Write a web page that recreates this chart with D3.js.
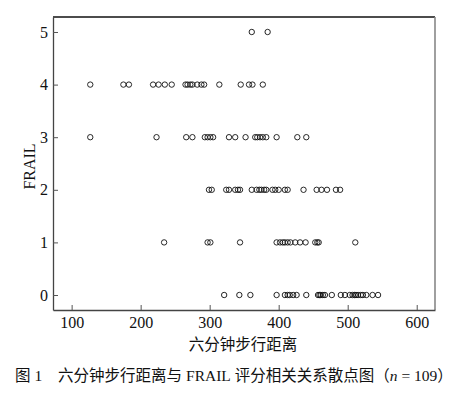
<!DOCTYPE html>
<html>
<head>
<meta charset="utf-8">
<script src="https://cdn.jsdelivr.net/npm/d3@7"></script>
<style>
  body { margin: 0; background: #fff; }
  svg { display: block; }
</style>
</head>
<body>
<div id="chart"></div>
<script>
// FRAIL score levels and six-minute walk distances
const frail_levels = [0, 1, 2, 3, 4, 5]
const walk_0 = [321, 343, 359, 397, 409, 413, 416, 421, 426, 440, 457, 459, 461, 464, 467, 477, 490, 496, 503, 507, 510, 512, 515, 519, 522, 527, 536, 544]
const walk_1 = [234, 297, 301, 344, 397, 402, 406, 409, 413, 417, 424, 431, 439, 453, 456, 458, 511]
const walk_2 = [299, 303, 324, 328, 337, 341, 344, 361, 368, 372, 375, 379, 382, 391, 395, 400, 409, 413, 436, 455, 462, 470, 483, 489]
const walk_3 = [127, 223, 266, 275, 293, 297, 301, 305, 328, 337, 352, 366, 369, 373, 377, 382, 397, 427, 440]
const walk_4 = [127, 175, 183, 218, 226, 235, 245, 265, 268, 272, 275, 282, 288, 292, 314, 345, 357, 362, 377]
const walk_5 = [361, 384]
const x_ticks = [100, 200, 300, 400, 500, 600]

const width = 458, height = 395
const margin = { left: 53, right: 23, top: 17, bottom: 85 }
const serif = "'Liberation Serif', 'Times New Roman', serif"
const cjk = "'Noto Sans CJK SC', sans-serif"

const data = [walk_0, walk_1, walk_2, walk_3, walk_4, walk_5]
    .flatMap((row, i) => row.map(d => ({ dist: d, frail: frail_levels[i] })))

const svg = d3.select("#chart")
    .append("svg")
    .attr("width", width)
    .attr("height", height)

const x = d3.scaleLinear()
    .domain([73, 626.5])
    .range([margin.left, width - margin.right])

const y = d3.scaleLinear()
    .domain([-0.285, 5.285])
    .range([height - margin.bottom, margin.top])

const plotH = height - margin.top - margin.bottom

// frame: dark top, grey right
svg.append("line")
    .attr("x1", margin.left).attr("x2", width - margin.right)
    .attr("y1", margin.top).attr("y2", margin.top)
    .attr("stroke", "#111").attr("stroke-width", 1.3)
svg.append("line")
    .attr("x1", width - margin.right).attr("x2", width - margin.right)
    .attr("y1", margin.top).attr("y2", height - margin.bottom)
    .attr("stroke", "#888").attr("stroke-width", 1.6)

const xAxis = svg.append("g")
    .attr("transform", `translate(0, ${height - margin.bottom})`)
    .call(d3.axisBottom(x).tickValues(x_ticks).tickSizeInner(-5).tickSizeOuter(0).tickPadding(7))
const yAxis = svg.append("g")
    .attr("transform", `translate(${margin.left}, 0)`)
    .call(d3.axisLeft(y).tickValues(frail_levels).tickFormat(d3.format("d")).tickSizeInner(-5).tickSizeOuter(0).tickPadding(10))

for (const ax of [xAxis, yAxis]) {
    ax.attr("font-family", serif).attr("font-size", 16)
    ax.select(".domain").attr("stroke", "#444").attr("stroke-width", 1.3)
    ax.selectAll(".tick line").attr("stroke", "#555")
    ax.selectAll(".tick text")
        .style("font-family", serif)
        .style("font-size", "16px")
        .attr("fill", "#111")
}
yAxis.selectAll(".tick text").attr("x", -5)

svg.append("g")
    .selectAll("circle")
    .data(data)
    .join("circle")
    .attr("cx", d => x(d.dist))
    .attr("cy", d => y(d.frail))
    .attr("r", 2.7)
    .attr("fill", "none")
    .attr("stroke", "#111")
    .attr("stroke-width", 0.9)

svg.append("text")
    .attr("transform", `translate(35, ${margin.top + plotH / 2 + 3}) rotate(-90)`)
    .attr("text-anchor", "middle")
    .style("font-family", serif)
    .style("font-size", "16px")
    .attr("fill", "#111")
    .text("FRAIL")

svg.append("text")
    .attr("x", 243)
    .attr("y", 350)
    .attr("text-anchor", "middle")
    .style("font-family", cjk)
    .style("font-size", "15.5px")
    .attr("fill", "#111")
    .text("六分钟步行距离")

const caption = svg.append("text")
    .attr("y", 381)
    .style("font-size", "15.5px")
    .attr("fill", "#111")
caption.append("tspan").attr("x", 15).style("font-family", cjk).text("图")
caption.append("tspan").attr("dx", 4).style("font-family", serif).text("1")
caption.append("tspan").attr("x", 58).style("font-family", cjk).text("六分钟步行距离与")
caption.append("tspan").attr("dx", 4).style("font-family", serif).text("FRAIL")
caption.append("tspan").attr("dx", 4).style("font-family", cjk).text("评分相关关系散点图（")
caption.append("tspan").style("font-family", serif).style("font-style", "italic").text("n")
caption.append("tspan").style("font-family", serif).text(" = 109")
caption.append("tspan").style("font-family", cjk).text("）")
</script>
</body>
</html>
